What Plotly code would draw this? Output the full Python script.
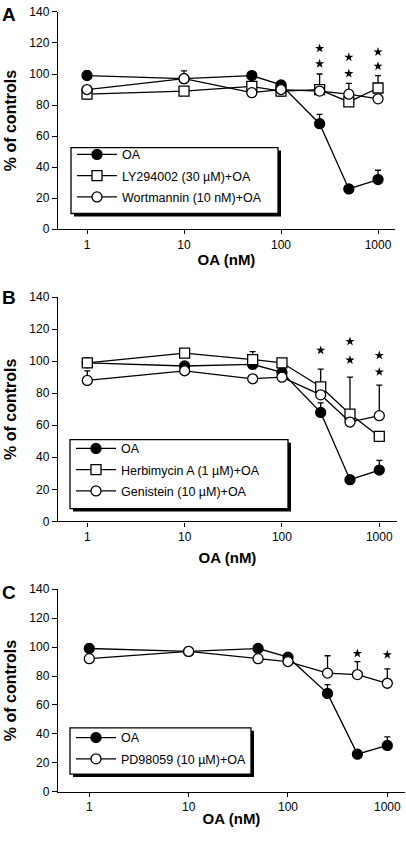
import plotly.graph_objects as go

# ---------------- data ----------------
conc = [1, 10, 50, 100, 250, 500, 1000]
tick_vals = [1, 10, 100, 1000]
tick_text = ["1", "10", "100", "1000"]

oa_vals = [99, 97, 99, 93, 68, 26, 32]
oa_err = [3, 0, 2, 2, 6, 0, 6]

# Panel A
ly_vals = [87, 89, 92, 89, 90, 82, 91]
ly_err_up = [0, 0, 0, 0, 10, 0, 8]
ly_err_down = [3, 0, 0, 3, 0, 0, 0]
wort_vals = [90, 97, 88, 90, 89, 87, 84]
wort_err = [0, 5, 0, 0, 0, 7, 0]
starsA_x = [250, 250, 500, 500, 1000, 1000]
starsA_y = [116.5, 106.6, 110.8, 100.3, 114.2, 105]

# Panel B
oaB_vals = [99, 97, 98, 93, 68, 26, 32]
herb_vals = [99, 105, 101, 99, 84, 67, 53]
herb_err = [0, 0, 5, 0, 11, 23, 0]
gen_vals = [88, 94, 89, 90, 79, 62, 66]
gen_err = [6, 0, 0, 0, 0, 0, 19]
starsB_x = [250, 500, 500, 1000, 1000]
starsB_y = [106.8, 112.3, 100.7, 103.6, 93.3]

# Panel C
pd_vals = [92, 97, 92, 90, 82, 81, 75]
pd_err = [0, 0, 0, 0, 12, 9, 10]
starsC_x = [500, 1000]
starsC_y = [95.6, 94.7]

# ---------------- layout helpers ----------------
W, H = 406, 845
FONT = "Liberation Sans, Arial, sans-serif"


def px_x(p):
    return p / W


def px_y(p):
    return 1 - p / H


fig = go.Figure()

LW = 1.3


def add_series(vals, up, down, xa, ya, symbol, fill, name, legend, group):
    fig.add_trace(go.Scatter(
        x=conc, y=vals, mode="lines+markers", name=name,
        xaxis=xa, yaxis=ya, legend=legend, legendgroup=group,
        line=dict(color="black", width=LW),
        marker=dict(symbol=symbol, size=10, color=fill,
                    line=dict(color="black", width=LW)),
        error_y=dict(type="data", symmetric=False, array=up,
                     arrayminus=down if down is not None else [0] * len(up),
                     color="black", thickness=LW, width=3),
    ))


def add_stars(sx, sy, xa, ya):
    fig.add_trace(go.Scatter(
        x=sx, y=sy, mode="markers", xaxis=xa, yaxis=ya, showlegend=False,
        marker=dict(symbol="star", size=7, color="black"),
        hoverinfo="skip",
    ))


# Panel A
add_series(oa_vals, oa_err, None, "x", "y", "circle", "black", "OA", "legend", "a1")
add_series(ly_vals, ly_err_up, ly_err_down, "x", "y", "square", "white",
           "LY294002 (30 µM)+OA", "legend", "a2")
add_series(wort_vals, wort_err, None, "x", "y", "circle", "white",
           "Wortmannin (10 nM)+OA", "legend", "a3")
add_stars(starsA_x, starsA_y, "x", "y")

# Panel B
add_series(oaB_vals, oa_err, None, "x2", "y2", "circle", "black", "OA", "legend2", "b1")
add_series(herb_vals, herb_err, None, "x2", "y2", "square", "white",
           "Herbimycin A (1 µM)+OA", "legend2", "b2")
add_series(gen_vals, gen_err, None, "x2", "y2", "circle", "white",
           "Genistein (10 µM)+OA", "legend2", "b3")
add_stars(starsB_x, starsB_y, "x2", "y2")

# Panel C
add_series(oa_vals, oa_err, None, "x3", "y3", "circle", "black", "OA", "legend3", "c1")
add_series(pd_vals, pd_err, None, "x3", "y3", "circle", "white",
           "PD98059 (10 µM)+OA", "legend3", "c2")
add_stars(starsC_x, starsC_y, "x3", "y3")

# panel geometry in pixels: (left, right, top, bottom, logmin, logmax, title standoff)
panels = [
    (58, 395, 5, 226, -0.299, 3.175, 3),
    (58, 397, 295, 523, -0.301, 3.182, 9),
    (58, 405, 592, 798, -0.315, 3.178, 0),
]

layout = dict(
    width=W, height=H, margin=dict(l=0, r=0, t=0, b=0),
    paper_bgcolor="white", plot_bgcolor="white",
    font=dict(family=FONT, size=12, color="black"),
    showlegend=True,
)

for i, (l, r, t, b, lo, hi, so) in enumerate(panels):
    sfx = "" if i == 0 else str(i + 1)
    layout["xaxis" + sfx] = dict(
        type="log", range=[lo, hi], domain=[px_x(l), px_x(r)],
        anchor="y" + sfx, tickvals=tick_vals, ticktext=tick_text,
        showline=True, linecolor="black", linewidth=1.4, ticks="outside",
        ticklen=4, tickwidth=1.3, tickcolor="black", showgrid=False,
        zeroline=False, tickfont=dict(size=12, family=FONT),
        title=dict(text="<b>OA (nM)</b>", font=dict(size=15, family=FONT),
                   standoff=so),
    )
    layout["yaxis" + sfx] = dict(
        range=[0, 140], domain=[px_y(b), px_y(t)], anchor="x" + sfx,
        dtick=20, showline=True, linecolor="black", linewidth=1.4,
        ticks="outside", ticklen=5, tickwidth=1.3, tickcolor="black",
        showgrid=False, zeroline=False, tickfont=dict(size=12, family=FONT),
        title=dict(text="<b>% of controls</b>", font=dict(size=16, family=FONT),
                   standoff=8),
    )

# legends: (name, box left, right, top, bottom, legend top)
leg_boxes = [
    ("legend", 71, 278, 143, 210, 135),
    ("legend2", 70, 288, 440, 510, 434),
    ("legend3", 70, 251, 733, 780, 728),
]
shapes = []
for name, l, r, t, b, lt in leg_boxes:
    shapes.append(dict(type="rect", xref="paper", yref="paper",
                       x0=px_x(l + 3), x1=px_x(r + 3), y0=px_y(b + 3), y1=px_y(t + 3),
                       fillcolor="black", line=dict(width=0), layer="above"))
    shapes.append(dict(type="rect", xref="paper", yref="paper",
                       x0=px_x(l), x1=px_x(r), y0=px_y(b), y1=px_y(t),
                       fillcolor="white", line=dict(color="black", width=1.3),
                       layer="above"))
    layout[name] = dict(
        x=px_x(l + 1), y=px_y(lt), xanchor="left", yanchor="top",
        bgcolor="rgba(0,0,0,0)", borderwidth=0, traceorder="grouped",
        tracegroupgap=2, itemwidth=40,
        font=dict(size=12.5, family=FONT, color="black"),
    )
layout["shapes"] = shapes

annotations = []
for letter, py in [("A", 8), ("B", 295), ("C", 595)]:
    annotations.append(dict(text="<b>" + letter + "</b>", xref="paper", yref="paper",
                            x=px_x(0), y=px_y(py), xanchor="left", yanchor="middle",
                            showarrow=False, font=dict(size=19, family=FONT)))
layout["annotations"] = annotations

fig.update_layout(**layout)
fig.write_html("out.html",
               config={"displayModeBar": False},
               post_script="document.body.style.margin='0px';")
